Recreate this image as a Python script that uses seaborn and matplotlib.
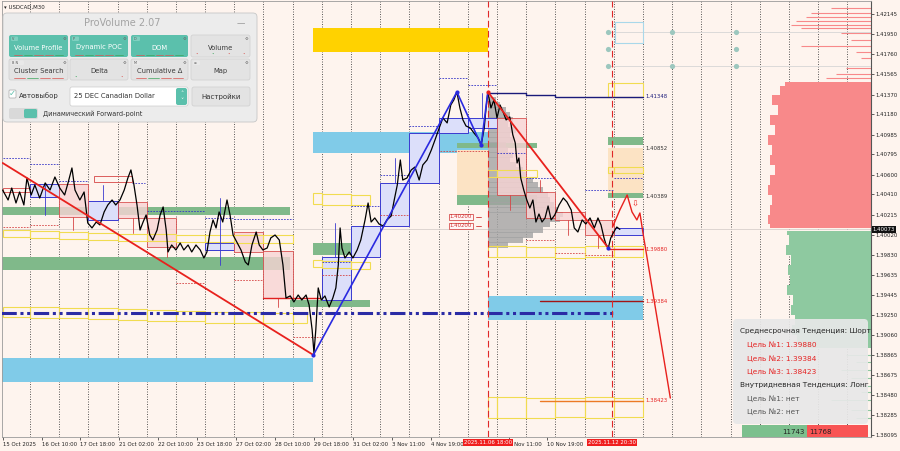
import matplotlib
matplotlib.use("Agg")
import matplotlib.pyplot as plt
import matplotlib.transforms as mtrans
from matplotlib.patches import Rectangle, FancyBboxPatch
from matplotlib.lines import Line2D
import numpy as np
import pandas as pd
import seaborn as sns

# ---------------------------------------------------------------- data
price_bar = [0, 9, 15, 22, 28, 35, 40, 47, 53, 61,
             70, 78, 86, 94, 102, 108, 114, 119, 127, 134,
             140, 147, 154, 160, 167, 173, 180, 186, 193, 200,
             206, 211, 216, 221, 226, 231, 236, 242, 247, 254,
             259, 264, 269, 272, 278, 285, 292, 298, 305, 311,
             318, 325, 331, 336, 341, 346, 351, 356, 362, 369,
             374, 379, 385, 392, 399, 404, 410, 417, 422, 428,
             435, 441, 448, 455, 461, 466, 473, 479, 486, 492,
             499, 504, 509, 512, 515, 519, 524, 530, 537, 543,
             548, 552, 555, 558, 563, 570, 576, 583, 589, 596,
             601, 606, 612, 619, 626, 632, 639, 644, 649, 654,
             658, 665, 672, 678, 685, 691, 698, 705, 711, 718,
             724, 731, 737, 742, 747, 752, 757, 762, 769, 775,
             782, 787, 792, 795, 798, 803, 808, 813, 818, 823,
             828, 834, 839, 843, 846, 849, 852, 857, 862, 867,
             872, 877, 882, 887, 892, 897, 902, 908, 915, 922,
             928, 935, 940, 946, 953, 959, 966, 973, 979, 984,
             989, 992, 996, 1000, 1005, 1010, 1015]
price_close = [1.40452, 1.40356, 1.40471, 1.40327, 1.40433, 1.40308, 1.40568, 1.40404, 1.40500, 1.40375,
               1.40520, 1.40452, 1.40577, 1.40471, 1.40404, 1.40529, 1.40664, 1.40452, 1.40356, 1.40433,
               1.40135, 1.40087, 1.40144, 1.40116, 1.40241, 1.40308, 1.40356, 1.40308, 1.40356, 1.40452,
               1.40568, 1.40645, 1.40500, 1.40308, 1.40067, 1.40144, 1.40212, 1.40019, 1.39971, 1.40067,
               1.40212, 1.40289, 1.40067, 1.39856, 1.39923, 1.39875, 1.39942, 1.39875, 1.39923, 1.39856,
               1.39923, 1.39875, 1.39798, 1.39856, 1.40048, 1.40164, 1.40087, 1.40241, 1.40144, 1.40356,
               1.40212, 1.40019, 1.39952, 1.39875, 1.39760, 1.39731, 1.39923, 1.40048, 1.39923, 1.39875,
               1.39894, 1.39991, 1.40019, 1.39971, 1.39731, 1.39413, 1.39433, 1.39375, 1.39442, 1.39394,
               1.39442, 1.39346, 1.39106, 1.38884, 1.39106, 1.39510, 1.39394, 1.39433, 1.39327, 1.39413,
               1.39510, 1.39731, 1.40087, 1.39894, 1.39798, 1.39856, 1.39798, 1.39875, 1.39971, 1.40164,
               1.40327, 1.40144, 1.40183, 1.40125, 1.40106, 1.40164, 1.40202, 1.40356, 1.40500, 1.40741,
               1.40548, 1.40568, 1.40645, 1.40673, 1.40548, 1.40693, 1.40741, 1.40837, 1.40933, 1.41049,
               1.41145, 1.41097, 1.41270, 1.41318, 1.41395, 1.41241, 1.41126, 1.41068, 1.41049, 1.41001,
               1.40952, 1.40885, 1.41049, 1.41241, 1.41395, 1.41241, 1.41318, 1.41145, 1.41270, 1.41203,
               1.41126, 1.41155, 1.40982, 1.40905, 1.40712, 1.40760, 1.40568, 1.40452, 1.40356, 1.40279,
               1.40356, 1.40144, 1.40221, 1.40144, 1.40183, 1.40298, 1.40164, 1.40212, 1.40308, 1.40375,
               1.40337, 1.40260, 1.40087, 1.40048, 1.40164, 1.40125, 1.40183, 1.40087, 1.40183, 1.40116,
               1.39990, 1.39933, 1.39894, 1.39990, 1.40048, 1.40096, 1.40073]
last_price = 1.40073

x_tick_bars = [0, 64, 128, 192, 256, 320, 384, 448, 512, 576, 640, 704, 832, 896]
x_tick_labels = ['15 Oct 2025', '16 Oct 10:00', '17 Oct 18:00', '21 Oct 02:00', '22 Oct 10:00',
                 '23 Oct 18:00', '27 Oct 02:00', '28 Oct 10:00', '29 Oct 18:00', '31 Oct 02:00',
                 '3 Nov 11:00', '4 Nov 19:00', '7 Nov 11:00', '10 Nov 19:00']
marked_bars = [798, 1002]
marked_labels = ['2025.11.06 18:00', '2025.11.12 20:30']

y_ticks = [1.42145, 1.41950, 1.41760, 1.41565, 1.41370, 1.41180, 1.40985, 1.40795, 1.40600,
           1.40410, 1.40215, 1.40020, 1.39830, 1.39635, 1.39445, 1.39250, 1.39060, 1.38865,
           1.38675, 1.38480, 1.38285, 1.38095]

grid_bars = [45 + 48 * k for k in range(29)]

# zones: (bar_from, bar_to, price_top, price_bottom)
gold_zones = [(510, 798, 1.42011, 1.41780)]
sky_zones = [(510, 798, 1.41010, 1.40808), (-2, 510, 1.38836, 1.38606), (798, 1053, 1.39432, 1.39202)]
green_zones = [(-2, 473, 1.40290, 1.40215), (-2, 473, 1.39808, 1.39683), (510, 604, 1.39942, 1.39827),
               (473, 604, 1.39394, 1.39327), (747, 879, 1.40904, 1.40856), (747, 879, 1.40404, 1.40308),
               (996, 1053, 1.40962, 1.40885), (996, 1053, 1.40423, 1.40375)]
peach_zones = [(747, 798, 1.40837, 1.40404), (996, 1053, 1.40856, 1.40423)]
blue_boxes = [(45, 93, 1.40510, 1.40385), (141, 189, 1.40346, 1.40164), (333, 381, 1.39942, 1.39875),
              (525, 573, 1.39808, 1.39394), (573, 621, 1.40106, 1.39808), (621, 669, 1.40520, 1.40106),
              (669, 717, 1.41001, 1.40520), (717, 765, 1.41145, 1.41001), (765, 813, 1.41145, 1.41049),
              (1005, 1053, 1.40087, 1.40019)]
red_boxes = [(93, 141, 1.40510, 1.40193), (189, 237, 1.40337, 1.40183), (237, 285, 1.40183, 1.39904),
             (381, 429, 1.40048, 1.39856), (429, 477, 1.39865, 1.39413), (813, 861, 1.41145, 1.40404),
             (861, 909, 1.40433, 1.40183), (909, 957, 1.40241, 1.40164), (957, 1005, 1.40164, 1.40019)]
red_outline_boxes = [(150, 213, 1.40587, 1.40529), (0, 45, 1.40471, 1.40433)]
yellow_boxes = [(0, 45, 1.39327, 1.39230), (45, 93, 1.39327, 1.39221), (93, 141, 1.39317, 1.39221),
                (141, 189, 1.39317, 1.39211), (189, 237, 1.39307, 1.39202), (237, 285, 1.39298, 1.39192),
                (285, 333, 1.39288, 1.39192), (333, 381, 1.39279, 1.39173), (381, 429, 1.39279, 1.39173),
                (429, 477, 1.39269, 1.39173), (477, 500, 1.39269, 1.39173),
                (0, 45, 1.40067, 1.40000), (45, 93, 1.40058, 1.39990), (93, 141, 1.40048, 1.39981),
                (141, 189, 1.40038, 1.39971), (189, 237, 1.40029, 1.39962), (237, 285, 1.40029, 1.39962),
                (285, 333, 1.40019, 1.39952), (333, 381, 1.40019, 1.39952), (381, 429, 1.40019, 1.39942),
                (429, 477, 1.40019, 1.39942),
                (510, 525, 1.40423, 1.40317), (525, 573, 1.40414, 1.40308), (573, 604, 1.40404, 1.40308),
                (510, 525, 1.39780, 1.39712), (525, 573, 1.39770, 1.39702), (573, 604, 1.39760, 1.39692),
                (798, 813, 1.40645, 1.40577), (813, 879, 1.40645, 1.40577),
                (996, 1005, 1.40674, 1.40616), (1005, 1053, 1.40674, 1.40616),
                (996, 1005, 1.41482, 1.41347), (1005, 1053, 1.41482, 1.41347),
                (798, 813, 1.39914, 1.39808), (813, 861, 1.39914, 1.39808), (861, 909, 1.39904, 1.39808),
                (909, 957, 1.39904, 1.39798), (957, 1005, 1.39914, 1.39808), (1005, 1053, 1.39914, 1.39808),
                (798, 813, 1.38461, 1.38259), (813, 861, 1.38461, 1.38259), (861, 909, 1.38451, 1.38259),
                (909, 957, 1.38451, 1.38269), (957, 1005, 1.38461, 1.38259), (1005, 1053, 1.38451, 1.38269)]
# dashed session levels: (bar_from, bar_to, price)
blue_dash = [(0, 45, 1.40760), (45, 93, 1.40702), (93, 141, 1.40539), (213, 234, 1.40520),
             (237, 333, 1.40250), (333, 381, 1.40183), (381, 477, 1.40173), (525, 573, 1.39759),
             (573, 621, 1.40298), (621, 669, 1.40597), (669, 717, 1.41068), (717, 765, 1.41530),
             (765, 813, 1.41462), (813, 861, 1.40808), (861, 909, 1.40568), (957, 1005, 1.40452),
             (1005, 1053, 1.40568)]
red_dash = [(0, 45, 1.40096), (45, 93, 1.40116), (285, 333, 1.39558), (381, 429, 1.39586),
            (477, 525, 1.39038), (525, 573, 1.39635), (621, 669, 1.40212), (719, 798, 1.40827),
            (861, 909, 1.39971), (909, 957, 1.39846), (957, 1005, 1.39827)]
blue_wicks = [(70, 1.40520, 1.40212), (165, 1.40500, 1.40356), (357, 1.40375, 1.39731),
              (547, 1.40135, 1.39808), (645, 1.40760, 1.40520), (788, 1.41385, 1.41145)]
red_wicks = [(116, 1.40193, 1.40067), (214, 1.40183, 1.40038), (270, 1.39904, 1.39808),
             (453, 1.39413, 1.39327), (835, 1.40404, 1.40260), (884, 1.40548, 1.40433),
             (930, 1.40164, 1.40019), (979, 1.40019, 1.39894)]

red_trend_1 = ([0, 511], [1.40712, 1.38865])
red_trend_2 = ([798, 996], [1.41395, 1.39894])
blue_zigzag = ([511, 747, 787, 798], [1.38865, 1.41395, 1.40885, 1.41395])
blue_pivots = ([511, 747, 787, 996], [1.38865, 1.41395, 1.40885, 1.39894])
red_pivot = ([798], [1.41395])
forecast_bar = [1003, 1015, 1027, 1035, 1043, 1048, 1053, 1098]
forecast_price = [1.40096, 1.40260, 1.40404, 1.40241, 1.40164, 1.40231, 1.40039, 1.38451]

navy_level = ([798, 861, 861, 909, 909, 1053], [1.41385, 1.41385, 1.41365, 1.41365, 1.41348, 1.41348])
dashdot_level = (-2, 1005, 1.39269)
target_levels = [(996, 1053, 1.39880, '#e52222'), (884, 1053, 1.39384, '#a31515'),
                 (884, 1053, 1.38423, '#ec7a25')]
level_labels = [(1.41348, '1.41348', '#1a1a7a'), (1.40852, '1.40852', '#333333'),
                (1.40389, '1.40389', '#333333'), (1.39880, '1.39880', '#e52222'),
                (1.39384, '1.39384', '#e52222'), (1.38423, '1.38423', '#e52222')]
poc_labels = [(1.40193, '1.40200'), (1.40106, '1.40200')]

# volume profile of the last session (gray), anchored at bar 798
vp_price = [1.41318, 1.41270, 1.41222, 1.41173, 1.41126, 1.41078, 1.41029, 1.40981, 1.40933, 1.40885,
            1.40837, 1.40789, 1.40741, 1.40693, 1.40645, 1.40597, 1.40548, 1.40500, 1.40452, 1.40404,
            1.40356, 1.40308, 1.40260, 1.40212, 1.40164, 1.40116, 1.40067, 1.40019, 1.39971, 1.39923]
vp_width = [13, 20, 30, 36, 41, 33, 46, 36, 41, 30, 33, 41, 36, 46, 58, 63, 74, 82, 90, 99,
            102, 109, 115, 123, 118, 102, 90, 74, 58, 33]

# market profile on the right edge
ask_line_price = [1.42203, 1.42155, 1.42116, 1.42078, 1.42040, 1.42011, 1.41963, 1.41895, 1.41837,
                  1.41780, 1.41722, 1.41626, 1.41568, 1.41530]
ask_line_width = [66, 99, 107, 123, 132, 115, 49, 33, 115, 25, 16, 41, 58, 74]
ask_block_price = [1.41491, 1.41414, 1.41318, 1.41222, 1.41126, 1.41029, 1.40933, 1.40837, 1.40741,
                   1.40645, 1.40548, 1.40452, 1.40356, 1.40260, 1.40164, 1.40087]
ask_block_width = [141, 150, 163, 153, 166, 158, 169, 163, 166, 158, 166, 169, 163, 166, 169, 166]
bid_block_price = [1.40058, 1.39971, 1.39875, 1.39779, 1.39683, 1.39586, 1.39490, 1.39394, 1.39298,
                   1.39202, 1.39105, 1.39009, 1.38932]
bid_block_width = [138, 135, 140, 132, 137, 133, 138, 128, 132, 125, 130, 122, 115]
bid_line_price = [1.38865, 1.38798, 1.38721, 1.38644, 1.38567, 1.38509, 1.38432, 1.38336, 1.38259]
bid_line_width = [41, 25, 49, 33, 58, 16, 66, 33, 25]

mid_trend = ['Среднесрочная Тенденция: Шорт', 'Цель №1: 1.39880', 'Цель №2: 1.39384', 'Цель №3: 1.38423']
intraday_trend = ['Внутридневная Тенденция: Лонг', 'Цель №1: нет', 'Цель №2: нет']
vol_buy, vol_sell = 11743, 11768

# ---------------------------------------------------------------- figure
sns.set_theme(style='white')
plt.rcParams['font.family'] = ['DejaVu Sans']

W, H = 900, 451
BG = '#fef4ee'
fig = plt.figure(figsize=(W / 100, H / 100), dpi=100, facecolor=BG)
ax = fig.add_axes([2 / W, (H - 437) / H, 869 / W, 436 / H])
ax.set_facecolor(BG)
XR = 1428
ax.set_xlim(-1, XR)
ax.set_ylim(1.38076, 1.42270)

for g in grid_bars:
    ax.axvline(g, color='#444444', lw=0.6, ls=(0, (1.2, 1.8)), zorder=0.5)
ax.axhline(last_price, color='#d8d0cc', lw=0.6, zorder=0.6)


def zone(items, fc, z, ec='none', lw=0.0, alpha=1.0):
    for x0, x1, pt, pb in items:
        ax.add_patch(Rectangle((x0, pb), x1 - x0, pt - pb, fc=fc, ec=ec, lw=lw,
                               alpha=alpha, zorder=z))


zone(gold_zones, '#ffd200', 1)
zone(sky_zones, '#80cbe8', 1)
zone(peach_zones, '#fce3c4', 1)
zone(green_zones, '#80b98a', 1.2)

# gray volume profile
ax.barh(vp_price, vp_width, left=798, height=0.00049, color='#a3a3a3', alpha=0.8,
        lw=0, zorder=2)

zone(blue_boxes, '#dcdffa', 2.5, ec='#3a3ad0', lw=0.7)
zone(red_boxes, '#f8d4d4', 3, ec='#d64545', lw=0.7, alpha=0.8)
for x0, x1, pt, pb in red_outline_boxes:
    ax.add_patch(Rectangle((x0, pb), x1 - x0, pt - pb, fc='none', ec='#d64545', lw=0.6, zorder=3))
for x0, x1, pt, pb in yellow_boxes:
    ax.add_patch(Rectangle((x0, pb), x1 - x0, pt - pb, fc='none', ec='#f1dc50', lw=0.8, zorder=3.2))

for x0, x1, p in blue_dash:
    ax.plot([x0, x1], [p, p], color='#3535c8', lw=0.6, ls=(0, (2, 1.5)), zorder=3.3)
for x0, x1, p in red_dash:
    ax.plot([x0, x1], [p, p], color='#d64545', lw=0.6, ls=(0, (2, 1.5)), zorder=3.3)
for b, p0, p1 in blue_wicks:
    ax.plot([b, b], [p0, p1], color='#3a3ad0', lw=0.6, zorder=3.3)
for b, p0, p1 in red_wicks:
    ax.plot([b, b], [p0, p1], color='#d64545', lw=0.6, zorder=3.3)

# right-edge market profile
ax.fill_betweenx(ask_block_price, [XR - w for w in ask_block_width], XR, step='mid',
                 color='#f8898a', lw=0, zorder=2)
ax.hlines(ask_line_price, [XR - w for w in ask_line_width], XR, color='#f8898a', lw=0.8, zorder=2)
ax.fill_betweenx(bid_block_price, [XR - w for w in bid_block_width], XR, step='mid',
                 color='#8ec9a0', lw=0, zorder=2)
ax.hlines(bid_line_price, [XR - w for w in bid_line_width], XR, color='#8ec9a0', lw=0.8, zorder=2)

# levels
ax.plot([dashdot_level[0], dashdot_level[1]], [dashdot_level[2]] * 2, color='#2b2ba5', lw=2.2,
        ls=(0, (5, 1.2, 1, 1.2, 1, 1.2)), zorder=4)
ax.plot(navy_level[0], navy_level[1], color='#1a1a7a', lw=1.0, zorder=4)
for x0, x1, p, c in target_levels:
    ax.plot([x0, x1], [p, p], color=c, lw=1.0, zorder=4)
ax.plot([429, 522], [1.39413, 1.39413], color='#e02020', lw=1.0, zorder=4)
for p, s, c in level_labels:
    ax.text(1057, p, s, fontsize=3.9, color=c, va='center', ha='left', zorder=6)
for p, s in poc_labels:
    ax.text(735, p, s, fontsize=3.9, color='#d03030', va='center', ha='left', zorder=6,
            bbox=dict(fc='#fff4f4', ec='#d03030', lw=0.5, pad=0.6))
    ax.plot([778, 786], [p, p], color='#d03030', lw=0.6, zorder=6)

for b in marked_bars:
    ax.axvline(b, color='#e02828', lw=0.8, ls=(0, (6, 3)), zorder=4.5)

# price line
sns.lineplot(x=price_bar, y=price_close, ax=ax, color='black', lw=0.9, zorder=6,
             estimator=None, sort=False, legend=False)

# trend lines / zigzag
ax.plot(*red_trend_1, color='#e8211d', lw=1.3, zorder=7)
ax.plot(*red_trend_2, color='#e8211d', lw=1.3, zorder=7)
ax.plot(*blue_zigzag, color='#2a2ae0', lw=1.2, zorder=7)
ax.plot(forecast_bar, forecast_price, color='#e8211d', lw=1.0, zorder=7)
ax.scatter(*blue_pivots, s=9, color='#2a2ae0', zorder=8, lw=0)
ax.scatter(*red_pivot, s=9, color='#e8211d', zorder=8, lw=0)
ax.text(1040, 1.40320, '⇩', color='#e8211d', fontsize=6, ha='center', va='center', zorder=8)

# drawing tool in top right (grid of handles)
ax.add_patch(Rectangle((1007, 1.41866), 46, 0.00202, fc='none', ec='#a9d8ea', lw=0.8, zorder=4))
for p in [1.41972, 1.41645]:
    ax.plot([996, XR], [p, p], color='#d6d6d6', lw=0.6, zorder=3)
ax.scatter([996, 1101, 1206, 996, 1206, 996, 1101, 1206],
           [1.41972, 1.41972, 1.41972, 1.41809, 1.41809, 1.41645, 1.41645, 1.41645],
           s=14, color='#9cc7be', lw=0, zorder=5)

# axes & ticks
ax.yaxis.tick_right()
ax.set_yticks(y_ticks)
ax.set_yticklabels([f'{v:.5f}' for v in y_ticks])
ax.set_xticks(x_tick_bars)
ax.set_xticklabels(x_tick_labels)
for lbl in ax.get_xticklabels():
    lbl.set_ha('left')
ax.tick_params(axis='y', labelsize=3.9, length=2, width=0.5, pad=1.5, colors='#222222', right=True)
ax.tick_params(axis='x', labelsize=3.9, length=2, width=0.5, pad=1.5, colors='#222222', bottom=True)
for sp in ['top', 'left', 'bottom']:
    ax.spines[sp].set_color('#9a9a9a')
    ax.spines[sp].set_linewidth(0.6)
ax.spines['right'].set_color('#555555')
ax.spines['right'].set_linewidth(0.8)
ax.set_xlabel('')
ax.set_ylabel('')

bt = mtrans.blended_transform_factory(ax.transData, ax.transAxes)
for b, s in zip(marked_bars, marked_labels):
    ax.text(b, -0.006, s, transform=bt, ha='center', va='top', fontsize=3.9, color='white',
            zorder=20, clip_on=False, bbox=dict(fc='#f01e1e', ec='none', pad=0.7))
bty = mtrans.blended_transform_factory(ax.transAxes, ax.transData)
ax.text(1.002, last_price, f'{last_price:.5f}', transform=bty, ha='left', va='center',
        fontsize=3.9, color='white', zorder=20, clip_on=False,
        bbox=dict(fc='#111111', ec='none', pad=0.6))


# ---------------------------------------------------------------- UI overlays (pixel layout)
def fbox(x, y, w, h, fc, ec='none', lw=0.5, r=3, z=10, alpha=1.0):
    p = FancyBboxPatch((x / W, 1 - (y + h) / H), w / W, h / H,
                       boxstyle=f'round,pad=0,rounding_size={r / W}',
                       transform=fig.transFigure, fc=fc, ec=ec, lw=lw, zorder=z, alpha=alpha,
                       mutation_aspect=W / H)
    fig.add_artist(p)


def ftext(x, y, s, z=12, **kw):
    fig.text(x / W, 1 - y / H, s, zorder=z, **kw)


def fline(x0, x1, y, c, lw=1.0, z=12):
    fig.add_artist(Line2D([x0 / W, x1 / W], [1 - y / H, 1 - y / H], color=c, lw=lw,
                          transform=fig.transFigure, zorder=z))


ftext(4, 7.5, '▾ USDCAD,M30', fontsize=3.9, color='#222222', va='center', ha='left')

TEAL = '#5bc0ac'
GRAY = '#e3e3e3'
fbox(3, 13, 254, 109, '#ececec', ec='#c6c6c6', lw=0.6, r=4)
ftext(122, 23, 'ProVolume 2.07', fontsize=7, color='#a3a3a3', ha='center', va='center')
ftext(241, 24, '—', fontsize=6, color='#9a9a9a', ha='center', va='center')

buttons = [(9, 35, 59, 22, 'Volume Profile', True, 'V'), (70, 35, 58, 22, 'Dynamic POC', True, 'P'),
           (131, 35, 57, 22, 'DOM', True, 'D'), (191, 35, 59, 22, 'Volume', False, ''),
           (9, 59, 59, 21, 'Cluster Search', False, 'B N'), (70, 59, 58, 21, 'Delta', False, ''),
           (131, 59, 57, 21, 'Cumulative Δ', False, 'M'), (191, 59, 59, 21, 'Map', False, '≡')]
for x, y, w, h, s, on, tag in buttons:
    fbox(x, y, w, h, TEAL if on else GRAY, ec='#cfcfcf' if not on else 'none', lw=0.5, r=2)
    ftext(x + w / 2, y + h / 2 + 1.5, s, fontsize=4.9, ha='center', va='center',
          color='white' if on else '#3a3a3a')
    if tag:
        fbox(x + 2, y + 1.5, 4 + 3 * len(tag), 4.5, '#e9e9e9' if not on else '#7fd0c0', r=1)
        ftext(x + 3, y + 4, tag, fontsize=2.4, ha='left', va='center', color='#555555')
    ftext(x + w - 4, y + 4, '⚙', fontsize=3, ha='center', va='center', color='#666666')
    cols = ['#d9534f', '#3aa55a', '#d9534f', '#d9534f'] if not on else ['#d9534f', '#3aa55a',
                                                                          '#d9534f', '#d9534f', '#3aa55a']
    if on or s in ('Cluster Search', 'Cumulative Δ'):
        n = len(cols)
        seg = (w - 8) / n
        for i, c in enumerate(cols):
            fline(x + 4 + i * seg + 1, x + 4 + (i + 1) * seg - 1, y + h - 2, c, lw=0.5)
    elif s in ('Volume', 'Delta'):
        for i, c in enumerate(cols if s == 'Volume' else ['#3aa55a', '#d9534f']):
            n = 4 if s == 'Volume' else 2
            ftext(x + 6 + i * (w - 12) / (n - 1) if n > 1 else x + w / 2, y + h - 2.5, '•',
                  fontsize=3, color=c, ha='center', va='center')

# checkbox row
fbox(9, 90, 7, 8, 'white', ec='#a8a8a8', lw=0.5, r=1)
ftext(12.5, 93, '✓', fontsize=6, color=TEAL, ha='center', va='center', z=13)
ftext(19, 95.5, 'Автовыбор', fontsize=5.0, color='#333333', ha='left', va='center')
fbox(70, 87, 118, 19, 'white', ec='#cccccc', lw=0.5, r=2)
ftext(74, 96.5, '25 DEC Canadian Dollar', fontsize=4.9, color='#333333', ha='left', va='center')
fbox(176, 88, 11, 17, TEAL, r=2)
ftext(181.5, 93, '˄', fontsize=4.5, color='white', ha='center', va='center', z=13)
ftext(181.5, 100.5, '˅', fontsize=4.5, color='white', ha='center', va='center', z=13)
fbox(192, 87, 58, 19, GRAY, ec='#cfcfcf', lw=0.5, r=2)
ftext(221, 96.5, 'Настройки', fontsize=5.0, color='#333333', ha='center', va='center')
# toggle row
fbox(9, 108, 29, 11, '#d9d9d9', r=2)
fbox(24, 109, 13, 9, TEAL, r=1.5)
ftext(43, 114, 'Динамический Forward-point', fontsize=4.7, color='#333333', ha='left', va='center')

# trend info box
fbox(733, 319, 135, 105, '#e8e8e8', r=4, alpha=0.92, z=10)
rows_y = [331, 345, 358.5, 372]
for i, (s, yy) in enumerate(zip(mid_trend, rows_y)):
    ftext(740 if i == 0 else 747, yy, s, fontsize=5.3, ha='left', va='center',
          color='#262626' if i == 0 else '#e52222')
rows_y2 = [385, 398.5, 412]
for i, (s, yy) in enumerate(zip(intraday_trend, rows_y2)):
    ftext(740 if i == 0 else 747, yy, s, fontsize=5.3, ha='left', va='center',
          color='#262626' if i == 0 else '#555555')
fig.add_artist(Rectangle((742 / W, 1 - 437 / H), 65 / W, 12 / H, transform=fig.transFigure,
                         fc='#7cc08e', ec='none', zorder=11))
fig.add_artist(Rectangle((807 / W, 1 - 437 / H), 61 / W, 12 / H, transform=fig.transFigure,
                         fc='#f85454', ec='none', zorder=11))
ftext(805, 431.5, str(vol_buy), fontsize=5.0, ha='right', va='center', color='#222222')
ftext(809, 431.5, str(vol_sell), fontsize=5.0, ha='left', va='center', color='#222222')

fig.savefig('out.png', dpi=100, facecolor=BG)
